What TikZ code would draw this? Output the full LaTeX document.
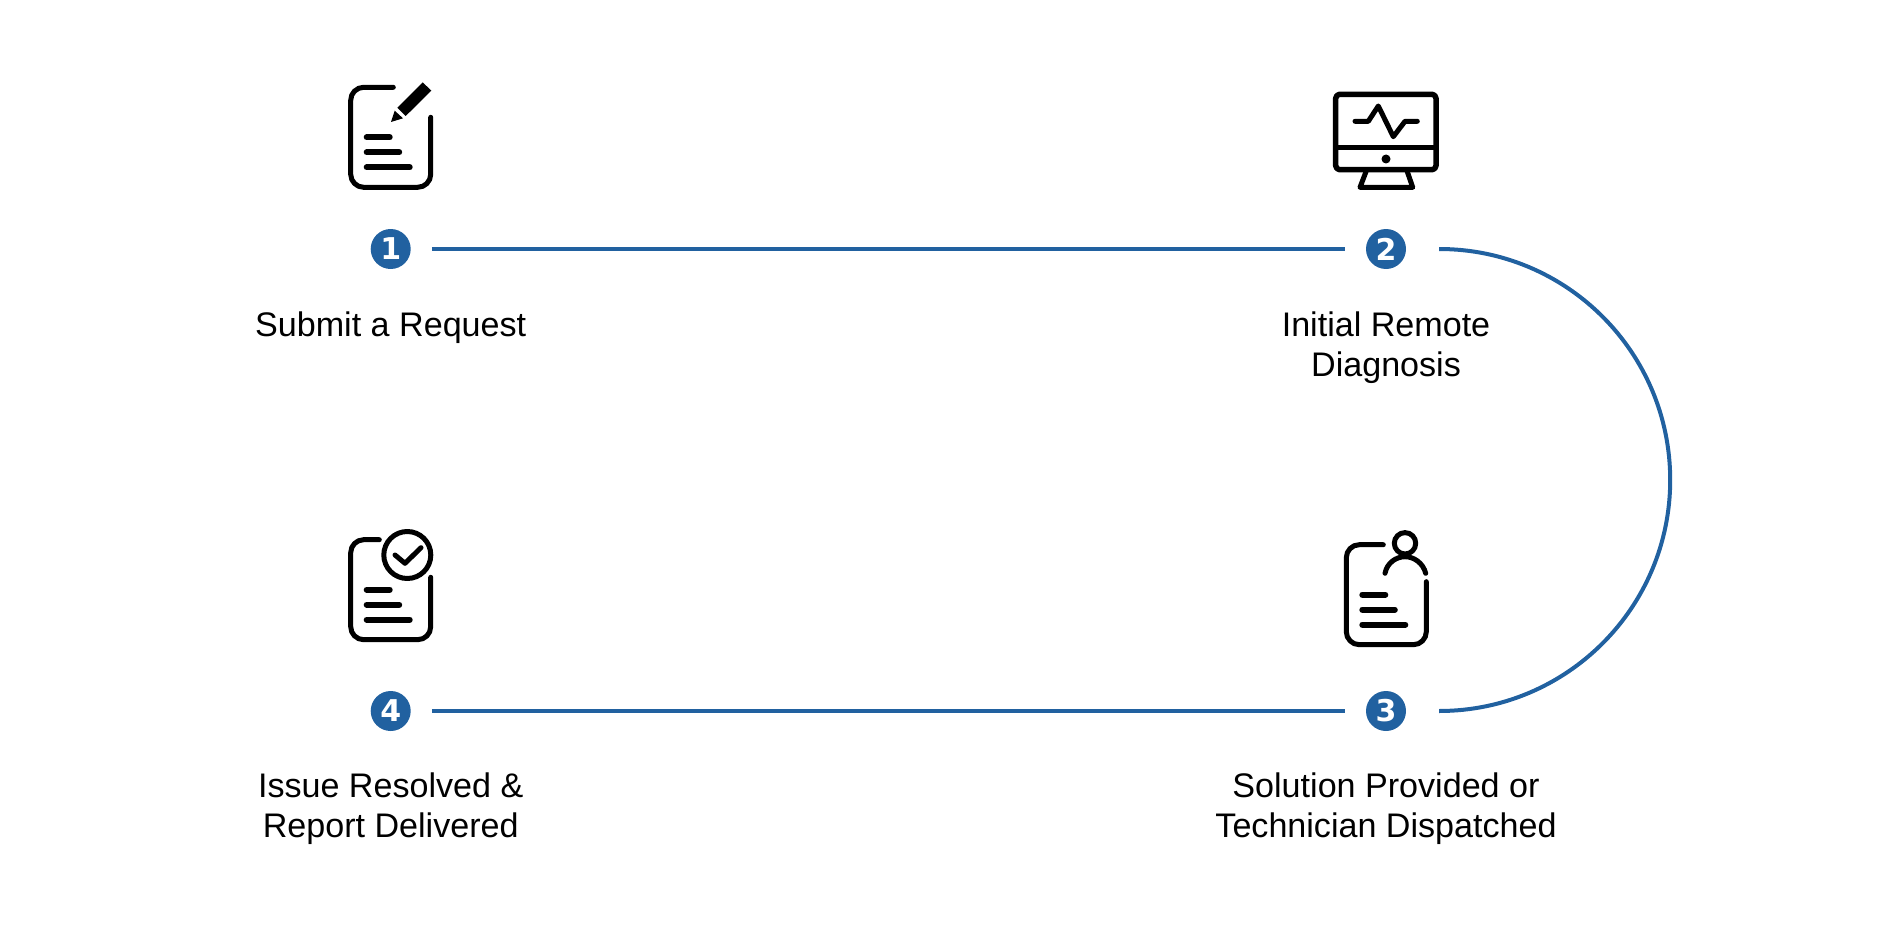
\documentclass[tikz,border=0pt]{standalone}
\usepackage{fontspec}
\setmainfont{Liberation Sans}
\newfontfamily\digitfont{DejaVu Sans}
\usetikzlibrary{positioning}
\definecolor{flowblue}{RGB}{33,97,160}
\tikzset{
  stepdot/.style={circle,fill=flowblue,text=white,minimum size=40pt,inner sep=0pt,font=\digitfont\bfseries\fontsize{30}{30}\selectfont},
  steplabel/.style={align=center,inner sep=0pt,font=\fontsize{34.1}{40}\selectfont},
  flowline/.style={draw=flowblue,line width=4pt},
  iconline/.style={line width=5pt,line cap=round,line join=round},
  iconbar/.style={line width=6pt,line cap=round},
}
% sheet of paper: corner x, corner y, top stroke end, right stroke start
\newcommand{\docsheet}[4]{
\begin{scope}[shift={(#1,#2)}]
\draw[iconline] (#3,0) -- (13,0) arc[start angle=90,end angle=180,radius=13]
  -- (0,-87) arc[start angle=180,end angle=270,radius=13]
  -- (67,-100) arc[start angle=270,end angle=360,radius=13] -- (80,-#4);
\draw[iconbar] (16,-50) -- (39,-50) (16,-65) -- (48.5,-65) (16,-80) -- (59,-80);
\end{scope}}
\begin{document}
\begin{tikzpicture}[x=1pt,y=1pt]
\useasboundingbox (0,0) rectangle (1884,-944);
% numbered steps
\node[stepdot] (stepa) at (390.7,-249) {1};
\node[stepdot] (stepb) at (1386,-249) {2};
\node[stepdot] (stepc) at (1386,-711) {3};
\node[stepdot] (stepd) at (390.7,-711) {4};
% captions
\node[steplabel,below=42pt of stepa] (labela) {Submit a Request};
\node[steplabel,below=42pt of stepb] (labelb) {Initial Remote\\Diagnosis};
\node[steplabel,below=41pt of stepc] (labelc) {Solution Provided or\\Technician Dispatched};
\node[steplabel,below=41pt of stepd] (labeld) {Issue Resolved \&\\Report Delivered};
% connectors
\coordinate[right=33pt of stepb] (arcb);
\path[flowline,shorten <=21pt,shorten >=21pt]
(stepa) edge (stepb)
(stepd) edge (stepc);
\draw[flowline] (arcb) arc[start angle=90,end angle=-90,radius=231];
% icon 1
\docsheet{350.7}{-87.3}{42.6}{30}
\fill (422.7,-82.3) -- (431.3,-90.7) -- (405.7,-116) -- (397.3,-107.7) -- cycle;
\fill (394.7,-110.7) -- (403,-118.3) -- (391,-122) -- cycle;
% icon 2
\draw[iconline,line width=5.5pt,rounded corners=4pt] (1335.7,-94.3) rectangle (1436,-169.7);
\draw[iconline] (1335.7,-147.7) -- (1436,-147.7);
\fill (1386,-159) circle[radius=4.5];
\draw[iconline] (1366,-171.7) -- (1360,-187.3) -- (1412.7,-187.3) -- (1407.3,-171.7);
\draw[iconline] (1355,-121.3) -- (1368.3,-121.3) -- (1378.3,-106) -- (1393.3,-136.7) -- (1405,-121.3) -- (1417.3,-121.3);
% icon 3
\docsheet{1346.3}{-544.7}{37}{37}
\draw[iconline] (1405,-543.3) circle[radius=10.7];
\draw[iconline] (1385,-573.3) .. controls (1387,-563) and (1396,-556.7) .. (1405,-556.7)
  .. controls (1414,-556.7) and (1423,-563) .. (1425.7,-573.3);
% icon 4
\docsheet{350.7}{-539.7}{28.6}{37.6}
\draw[iconline] (407.3,-555) circle[radius=23.5];
\draw[iconline] (395,-555) -- (405,-563.3) -- (421,-547.7);
\end{tikzpicture}
\end{document}
